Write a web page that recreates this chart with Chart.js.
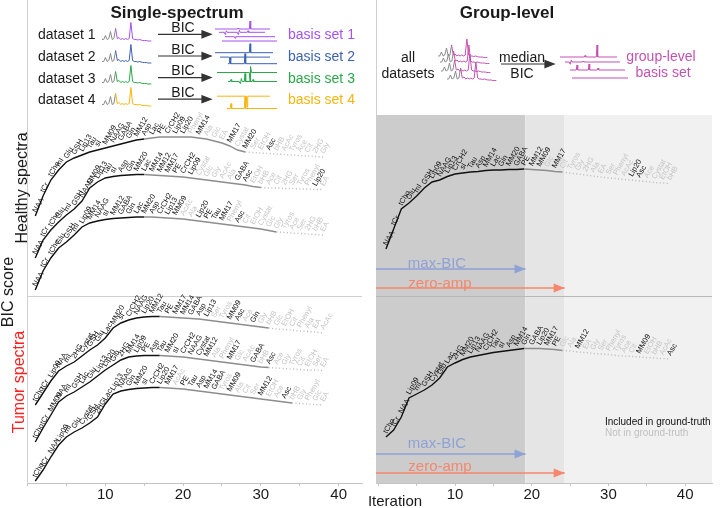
<!DOCTYPE html>
<html>
<head>
<meta charset="utf-8">
<script src="https://cdn.jsdelivr.net/npm/chart.js@4.4.1/dist/chart.umd.min.js"></script>
<style>
  body{margin:0;background:#fff;}
  #fig{position:relative;width:720px;height:508px;overflow:hidden;font-family:"Liberation Sans",Arial,sans-serif;color:#1a1a1a;}
  #fig canvas{position:absolute;}
  .t{position:absolute;white-space:nowrap;line-height:1;transform:translate(-50%,-50%);}
  .l{transform:translate(0,-50%);}
  .r{transform:translate(-50%,-50%) rotate(-90deg);}
  .b{font-weight:bold;font-size:17px;}
  .s14{font-size:14px;}
</style>
</head>
<body>
<div id="fig">
  <canvas id="leftChart" width="370" height="508" style="left:0;top:0"></canvas>
  <canvas id="rightChart" width="350" height="508" style="left:370px;top:0"></canvas>

  <svg style="position:absolute;left:0;top:0" width="720" height="120">
    <g stroke="#333" stroke-width="1.2" fill="#333">
      <line x1="158" y1="34.3" x2="204" y2="34.3"/><polygon points="202,30.8 211,34.3 202,37.8"/>
      <line x1="158" y1="56" x2="204" y2="56"/><polygon points="202,52.5 211,56 202,59.5"/>
      <line x1="158" y1="77.6" x2="204" y2="77.6"/><polygon points="202,74.1 211,77.6 202,81.1"/>
      <line x1="158" y1="99.2" x2="204" y2="99.2"/><polygon points="202,95.7 211,99.2 202,102.7"/>
      <line x1="501" y1="64" x2="547" y2="64"/><polygon points="545,60.5 554,64 545,67.5"/>
    </g>
  </svg>

  <div class="t b" style="left:177px;top:12px">Single-spectrum</div>
  <div class="t b" style="left:507px;top:12px">Group-level</div>

  <div class="t l s14" style="left:38px;top:34px">dataset 1</div>
  <div class="t l s14" style="left:38px;top:56px">dataset 2</div>
  <div class="t l s14" style="left:38px;top:77.5px">dataset 3</div>
  <div class="t l s14" style="left:38px;top:99px">dataset 4</div>
  <div class="t s14" style="left:183px;top:27px">BIC</div>
  <div class="t s14" style="left:183px;top:48.5px">BIC</div>
  <div class="t s14" style="left:183px;top:70px">BIC</div>
  <div class="t s14" style="left:183px;top:91.5px">BIC</div>
  <div class="t l s14" style="left:288px;top:34px;color:#a452f2">basis set 1</div>
  <div class="t l s14" style="left:288px;top:56px;color:#3c62b4">basis set 2</div>
  <div class="t l s14" style="left:288px;top:77.5px;color:#28a84a">basis set 3</div>
  <div class="t l s14" style="left:288px;top:99px;color:#f7b50f">basis set 4</div>

  <div class="t s14" style="left:408px;top:57px">all</div>
  <div class="t s14" style="left:408px;top:73px">datasets</div>
  <div class="t s14" style="left:522px;top:57px">median</div>
  <div class="t s14" style="left:522px;top:73px">BIC</div>
  <div class="t s14" style="left:661px;top:56px;color:#c452b0">group-level</div>
  <div class="t s14" style="left:663px;top:72px;color:#c452b0">basis set</div>

  <div class="t r" style="left:8px;top:292px;font-size:16px">BIC score</div>
  <div class="t r" style="left:22px;top:188px;font-size:16px">Healthy spectra</div>
  <div class="t r" style="left:19px;top:382px;font-size:16px;color:#ff2020">Tumor spectra</div>

  <div class="t" style="left:437px;top:262px;font-size:15px;color:#8fa2d6">max-BIC</div>
  <div class="t" style="left:440px;top:282px;font-size:15px;color:#f5876b">zero-amp</div>
  <div class="t" style="left:437px;top:442px;font-size:15px;color:#8fa2d6">max-BIC</div>
  <div class="t" style="left:440px;top:465px;font-size:15px;color:#f5876b">zero-amp</div>

  <div class="t l" style="left:605px;top:422px;font-size:10px;color:#111">Included in ground-truth</div>
  <div class="t l" style="left:605px;top:433px;font-size:10px;color:#c0c0c0">Not in ground-truth</div>

  <div class="t" style="left:395px;top:500px;font-size:15px">Iteration</div>
</div>

<script>
// ---- ground truth sets ----
const healthyTruth = ["NAA","tCr","tCho","mI","Glu","GSH","Lip13","Tau","sI","MM09","NAAG","GABA","Gln","MM12","Asp","Lac","PE","CrCH2","Lip09","Lip20","MM14","MM17","MM20","Asc"];
const tumorTruth = ["tCho","tCr","NAA","Lip09","mI","Glu","Cystat","GSH","2HG","Lac","Lip13","NAAG","Gln","MM20","sI","CrCH2","Lip20","MM17","PE","Tau","Asp","MM14","GABA","MM09","MM12","Asc"];

// ---- metabolite added at each iteration ----
const healthyNames1 = ["NAA","tCr","tCho","mI","Glu","GSH","Lip13","Tau","sI","MM09","NAAG","GABA","Gln","MM12","Asp","Lac","PE","CrCH2","Lip09","Lip20","Phenyl","MM14","Ala","Glc","EA","MM17","Cystat","MM20","Ser","EtOH","Asc","bHB","AcAc","Tyros","Ace","Cit","2HG","Gly"];
const healthyNames2 = ["NAA","tCr","tCho","Glu","mI","GSH","NAAG","MM09","Lip13","Tau","sI","Asp","Gln","MM20","Lac","MM14","MM12","MM17","PE","CrCH2","Lip09","Cystat","Glc","Gly","AcAc","Ala","GABA","Asc","EtOH","bHB","Ace","Cit","2HG","Ser","Tyros","Phenyl","Lip20","EA"];
const healthyNames3 = ["NAA","tCr","tCho","Glu","GSH","mI","Lip09","MM14","NAAG","sI","MM12","GABA","Gln","Lac","MM20","Asp","CrCH2","Lip13","MM09","AcAc","Ala","Lip20","PE","Tau","MM17","Phenyl","Asc","Cit","EtOH","Cystat","Glc","Gly","Tyros","Ace","Ser","2HG","bHB","EA"];
const tumorNames1 = ["tCho","tCr","Lip09","NAA","mI","2HG","Cystat","GSH","Glu","Lac","MM20","sI","CrCH2","NAAG","Lip20","MM12","Tau","PE","MM17","MM14","GABA","Asp","Lip13","Ser","Tyros","MM09","Asc","Ace","Gln","Gly","bHB","Glc","EtOH","Cit","Phenyl","Ala","EA","AcAc"];
const tumorNames2 = ["tCho","tCr","MM09","NAA","mI","GSH","Lac","Glu","Lip13","Lip20","Gln","2HG","MM14","Lip09","PE","Asp","Tau","MM20","sI","CrCH2","NAAG","Cystat","MM12","Ala","Phenyl","MM17","Glc","AcAc","GABA","bHB","Asc","Ace","Gly","Tyros","Cit","EtOH","Ser","EA"];
const tumorNames3 = ["tCho","tCr","NAA","Lip09","mI","Glu","Cystat","GSH","2HG","Lac","Lip13","NAAG","Gln","MM20","sI","CrCH2","Lip20","MM17","AcAc","PE","Tau","Asp","MM14","GABA","Tyros","MM09","Ala","Cit","Ser","MM12","EtOH","Ace","Asc","bHB","Gly","Phenyl","Glc","EA"];
const groupHealthyNames = ["NAA","tCr","tCho","Glu","mI","GSH","Lip09","NAAG","Lip13","CrCH2","sI","Tau","Asp","MM14","Lac","Gln","MM20","GABA","PE","MM12","MM09","Glc","MM17","Cit","Tyros","Gly","2HG","Ala","EA","Ser","Phenyl","AcAc","Lip20","Asc","Ace","Cystat","EtOH","bHB"];
const groupTumorNames = ["tCho","tCr","NAA","Lip09","mI","GSH","Cystat","Glu","Lac","2HG","MM20","Lip13","NAAG","CrCH2","Tau","sI","Asp","MM14","Gln","GABA","Lip20","MM17","PE","Glc","Ala","MM12","EA","Gly","Ser","Phenyl","Tyros","Ace","Cit","MM09","EtOH","bHB","AcAc","Asc"];

// ---- BIC score per iteration (arbitrary units) ----
const healthyBic1 = [53.4,57.4,60.6,62.6,64.2,65.0,65.6,66.2,66.6,67.0,67.4,67.8,68.2,68.6,68.8,69.0,69.2,69.2,69.2,69.2,69.2,69.0,68.8,68.4,68.0,67.4,66.6,66.2,66.1,66.0,65.9,65.8,65.7,65.6,65.5,65.4,65.3,65.2];
const healthyBic2 = [45.0,48.6,50.6,52.2,53.6,54.8,56.4,59.0,60.2,61.0,61.3,61.5,61.6,61.7,61.7,61.6,61.5,61.4,61.3,61.2,61.0,60.8,60.6,60.4,60.2,60.0,59.8,59.6,59.3,59.1,59.0,59.0,58.9,58.9,58.8,58.8,58.7,58.7];
const healthyBic3 = [38.6,42.4,45.0,47.0,48.2,49.6,51.2,52.0,52.4,52.7,52.9,53.0,53.1,53.2,53.2,53.2,53.1,53.0,52.9,52.8,52.6,52.4,52.2,52.0,51.8,51.6,51.4,51.2,51.0,50.8,50.5,50.2,50.1,50.0,49.9,49.8,49.7,49.6];
const tumorBic1 = [15.6,18.0,20.4,22.4,23.4,24.2,25.4,26.6,27.6,29.0,31.0,32.0,32.6,33.0,33.2,33.3,33.3,33.2,33.1,33.0,32.9,32.8,32.6,32.4,32.2,32.0,31.8,31.6,31.4,31.2,31.0,30.8,30.7,30.6,30.4,30.3,30.2,30.0];
const tumorBic2 = [8.2,11.0,13.6,16.2,17.4,18.2,19.2,20.2,21.4,22.6,23.6,24.6,25.2,25.4,25.5,25.5,25.5,25.4,25.3,25.2,25.0,24.8,24.6,24.4,24.2,24.0,23.8,23.6,23.4,23.2,23.1,23.0,22.9,22.8,22.7,22.6,22.6,22.5];
const tumorBic3 = [0.4,2.6,5.2,7.6,9.2,10.2,11.0,12.0,13.2,15.8,17.8,18.4,18.7,18.9,19.0,19.1,19.1,19.0,18.9,18.8,18.6,18.4,18.2,18.0,17.8,17.6,17.4,17.2,17.0,16.8,16.6,16.4,16.2,16.0,15.9,15.8,15.7,15.6];
const groupHealthyBic = [46.8,50.8,54.8,56.0,57.4,59.0,60.2,60.6,61.3,61.8,62.0,62.2,62.3,62.5,62.6,62.6,62.7,62.7,62.8,62.7,62.6,62.5,62.3,62.2,62.0,61.8,61.6,61.4,61.2,61.0,60.9,60.7,60.6,60.4,60.3,60.1,60.0,59.9];
const groupTumorBic = [9.2,10.6,13.2,17.0,17.8,18.6,19.6,21.0,23.2,24.0,24.7,25.2,25.5,25.8,26.1,26.3,26.5,26.7,26.9,26.9,26.9,26.8,26.7,26.5,26.4,26.2,26.1,25.9,25.8,25.7,25.5,25.4,25.3,25.2,25.1,25.0,24.9,24.8];

// iteration of max BIC / last non-zero amplitude per curve
const maxBicIter = [15, 15, 15, 17, 17, 17];
const zeroAmpIter = [28, 30, 32, 31, 31, 34];
const groupMaxBic = 19.2;
const groupZeroAmp = 24.3;

// levels on the BIC axis
const healthyTop = 73.6;   // top of shaded area
const splitLevel = 37.3;   // healthy / tumor divider
const healthyArrows = [42.8, 39.0];
const tumorArrows = [5.8, 2.0];

// ---- schematic spectra (intensities) ----
const spectrum = [2,2,6,2,3,10,2,3,13,3,4,2,3,2,3,2,3,19,3,2,2,1.5,2,1.5,1,1,1,0.5,0.5,0.5];
const spectrumGreyEnd = 8;
// each line: [start, end, level, [[position, height], ...]]
const basisIcons = [
  [[2,57,17,[[25,1],[37,8]]],[6,52,13.7,[[12,-2],[13.4,1.5],[25,-2],[26.4,2],[35,1.5]]],[12,62,9.3,[[22,-1.5]]],[9,64,5,[]]],
  [[2,60,15.3,[[37,9]]],[7,57,10.9,[[17,-3]]],[15,64,4.3,[[17,6],[32,10]]]],
  [[4,64,16.5,[[37,-9],[37.8,6]]],[15,64,7.5,[[18,2],[27,-2],[28.4,3],[32,8],[40,2]]]],
  [[4,57,14.8,[[34,-11]]],[14,64,2.5,[[18,5],[32,12]]]]
];
const basisColors = ['#a452f2','#3c62b4','#28a84a','#f7b50f'];
const groupBasis = [[4,61,27,[[29,1.5],[41,12]]],[9,64,22,[[14,-2],[15.4,2],[27,1]]],[14,69,14,[[21,5],[33,6],[42,2]]],[16,72,6,[]]];
const groupColor = '#c452b0';

Chart.defaults.font.family = '"Liberation Sans", Arial, sans-serif';
const fig = document.getElementById('fig');

function curve(values, names, truth, blackEnd, solidEnd) {
  return {
    data: values.map((v, i) => ({x: i + 1, y: v})),
    names: names,
    truth: truth,
    borderWidth: 1.4,
    pointRadius: 0,
    tension: 0,
    order: 0,
    segment: {
      borderColor: c => c.p0DataIndex < blackEnd - 1 ? '#111' : (c.p0DataIndex < solidEnd - 1 ? '#8d8d8d' : '#b8b8b8'),
      borderDash: c => c.p0DataIndex >= solidEnd - 1 ? [1, 2.5] : undefined
    }
  };
}

function hline(x0, x1, y, color, order) {
  return {data: [{x: x0, y: y}, {x: x1, y: y}], borderColor: color, borderWidth: 1, pointRadius: 0, order: order};
}

const nameLabels = {
  id: 'nameLabels',
  afterDatasetsDraw(chart) {
    const ctx = chart.ctx;
    ctx.save();
    ctx.font = '7.5px "Liberation Sans", Arial, sans-serif';
    chart.data.datasets.forEach((ds, i) => {
      if (!ds.names) return;
      chart.getDatasetMeta(i).data.forEach((pt, j) => {
        ctx.save();
        ctx.translate(pt.x + 1, pt.y - 3);
        ctx.rotate(-Math.PI / 3);
        ctx.fillStyle = ds.truth.includes(ds.names[j]) ? '#111' : '#c4c4c4';
        ctx.fillText(ds.names[j], 0, 0);
        ctx.restore();
      });
    });
    ctx.restore();
  }
};

const arrowHeads = {
  id: 'arrowHeads',
  afterDatasetsDraw(chart) {
    const ctx = chart.ctx;
    chart.data.datasets.forEach((ds, i) => {
      if (!ds.arrow) return;
      const pts = chart.getDatasetMeta(i).data;
      const tip = pts[pts.length - 1];
      ctx.save();
      ctx.fillStyle = ds.borderColor;
      ctx.beginPath();
      ctx.moveTo(tip.x, tip.y);
      ctx.lineTo(tip.x - 11, tip.y - 4.5);
      ctx.lineTo(tip.x - 11, tip.y + 4.5);
      ctx.closePath();
      ctx.fill();
      ctx.restore();
    });
  }
};

function axes(xmin, xmax) {
  return {
    x: {
      type: 'linear', min: xmin, max: xmax,
      ticks: {stepSize: 5, includeBounds: false, autoSkip: false, maxRotation: 0, padding: 0, color: '#1a1a1a',
              font: {size: 15}, callback: v => (v > 0 && v % 10 === 0) ? v : ''},
      grid: {drawOnChartArea: false, tickLength: 3, color: '#c4c4c4'},
      border: {color: '#c4c4c4'}
    },
    y: {
      min: 0, max: 96.6,
      ticks: {display: false},
      grid: {display: false, drawTicks: false},
      border: {color: '#d0d0d0'}
    }
  };
}

const baseOpts = {
  responsive: false, animation: false, events: [],
  plugins: {legend: {display: false}, tooltip: {enabled: false}}
};

new Chart(document.getElementById('leftChart'), {
  type: 'line',
  data: {datasets: [
    curve(healthyBic1, healthyNames1, healthyTruth, maxBicIter[0], zeroAmpIter[0]),
    curve(healthyBic2, healthyNames2, healthyTruth, maxBicIter[1], zeroAmpIter[1]),
    curve(healthyBic3, healthyNames3, healthyTruth, maxBicIter[2], zeroAmpIter[2]),
    curve(tumorBic1, tumorNames1, tumorTruth, maxBicIter[3], zeroAmpIter[3]),
    curve(tumorBic2, tumorNames2, tumorTruth, maxBicIter[4], zeroAmpIter[4]),
    curve(tumorBic3, tumorNames3, tumorTruth, maxBicIter[5], zeroAmpIter[5]),
    hline(0, 43, splitLevel, '#cfcfcf', 5)
  ]},
  options: Object.assign({}, baseOpts, {
    layout: {padding: {left: 27.5, right: 8, top: 0, bottom: 4}},
    scales: axes(0, 43)
  }),
  plugins: [nameLabels]
});

function shade(x0, x1, color, order) {
  return {data: [{x: x0, y: healthyTop}, {x: x1, y: healthyTop}], fill: 'origin', backgroundColor: color,
          borderWidth: 0, pointRadius: 0, order: order};
}
function arrow(x1, y, color) {
  return {data: [{x: -0.3, y: y}, {x: x1, y: y}], borderColor: color, borderWidth: 1.6, pointRadius: 0, arrow: true, order: 1};
}

new Chart(document.getElementById('rightChart'), {
  type: 'line',
  data: {datasets: [
    curve(groupHealthyBic, groupHealthyNames, healthyTruth, Math.floor(groupMaxBic), Math.floor(groupZeroAmp)),
    curve(groupTumorBic, groupTumorNames, tumorTruth, Math.floor(groupMaxBic), Math.floor(groupZeroAmp)),
    arrow(groupMaxBic, healthyArrows[0], '#8fa2d6'),
    arrow(groupZeroAmp, healthyArrows[1], '#f5876b'),
    arrow(groupMaxBic, tumorArrows[0], '#8fa2d6'),
    arrow(groupZeroAmp, tumorArrows[1], '#f5876b'),
    hline(-0.3, 43.5, splitLevel, '#b8b8b8', 2),
    shade(-0.3, groupMaxBic, '#cccccc', 10),
    shade(groupMaxBic, groupZeroAmp, '#e5e5e5', 11),
    shade(groupZeroAmp, 43.5, '#f1f1f1', 12)
  ]},
  options: Object.assign({}, baseOpts, {
    layout: {padding: {left: 6, right: 8, top: 0, bottom: 4}},
    scales: axes(-0.3, 43.5)
  }),
  plugins: [nameLabels, arrowHeads]
});

// ---- schematic mini charts ----
function miniChart(left, top, w, h, lines) {
  const cv = document.createElement('canvas');
  cv.width = w; cv.height = h;
  cv.style.left = left + 'px';
  cv.style.top = top + 'px';
  fig.appendChild(cv);
  new Chart(cv, {
    type: 'line',
    data: {datasets: lines},
    options: Object.assign({}, baseOpts, {
      layout: {padding: 0},
      scales: {x: {type: 'linear', display: false, min: 0, max: w}, y: {display: false, min: 0, max: h}}
    })
  });
}
function spectrumLine(x0, base, color) {
  return {
    data: spectrum.map((v, i) => ({x: x0 + i * 1.7, y: base + v})),
    borderWidth: 1, pointRadius: 0, tension: 0,
    segment: {borderColor: c => c.p0DataIndex < spectrumGreyEnd ? '#8a8a8a' : color}
  };
}
function basisLine(line, color) {
  const [x0, x1, level, peaks] = line;
  const pts = [{x: x0, y: level}];
  peaks.forEach(([p, h]) => {
    pts.push({x: p - 0.7, y: level}, {x: p, y: level + h}, {x: p + 0.7, y: level});
  });
  pts.push({x: x1, y: level});
  return {data: pts, borderColor: color, borderWidth: 1, pointRadius: 0, tension: 0};
}

basisColors.forEach((col, k) => {
  const top = 19 + 21.6 * k;
  miniChart(101, top, 54, 24, [spectrumLine(1, 1.5, col)]);
  miniChart(213, top - 1, 68, 28, basisIcons[k].map(l => basisLine(l, col)));
});

miniChart(434, 30, 66, 56, [
  spectrumLine(4, 28, groupColor),
  spectrumLine(6, 22, groupColor),
  spectrumLine(7, 13, groupColor),
  spectrumLine(13, 5, groupColor)
]);
miniChart(556, 38, 76, 46, groupBasis.map(l => basisLine(l, groupColor)));
</script>
</body>
</html>
